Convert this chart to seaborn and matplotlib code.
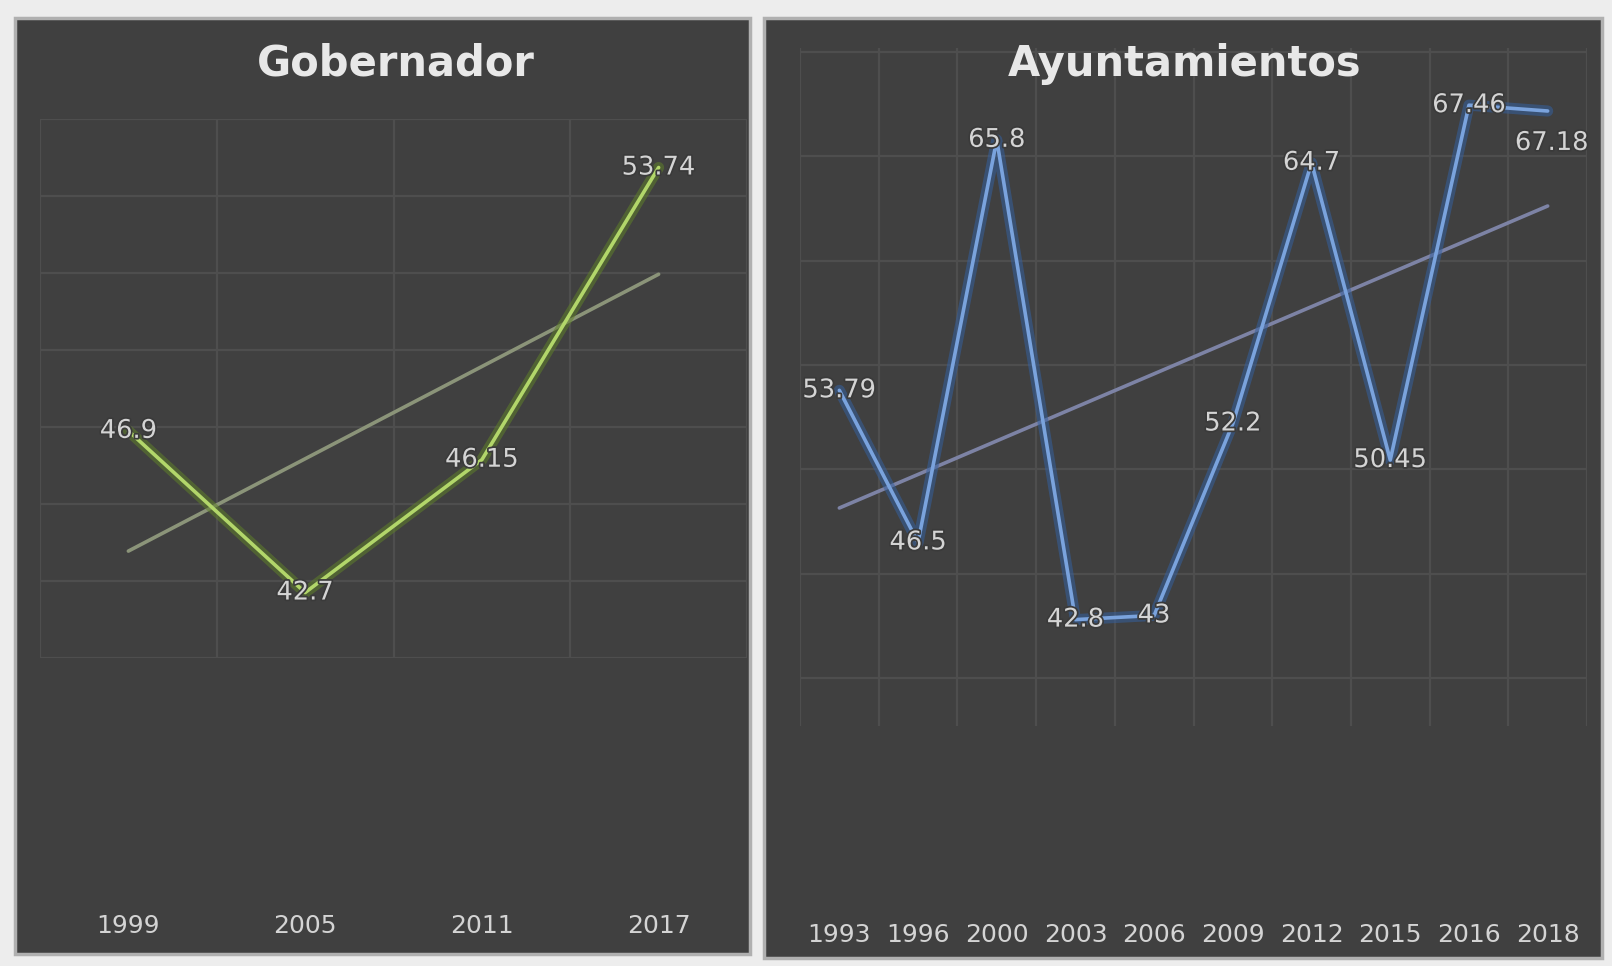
import numpy as np
import pandas as pd
import matplotlib
matplotlib.use("Agg")
import matplotlib.pyplot as plt
import matplotlib.patheffects as pe
from matplotlib.patches import Rectangle
import seaborn as sns

# ---------------- data ----------------
titles = ["Gobernador", "Ayuntamientos"]

gob_years = ["1999", "2005", "2011", "2017"]
gob_values = [46.9, 42.7, 46.15, 53.74]
gob_labels = ["46.9", "42.7", "46.15", "53.74"]

ayu_years = ["1993", "1996", "2000", "2003", "2006",
             "2009", "2012", "2015", "2016", "2018"]
ayu_values = [53.79, 46.5, 65.8, 42.8, 43, 52.2, 64.7, 50.45, 67.46, 67.18]
ayu_labels = ["53.79", "46.5", "65.8", "42.8", "43",
              "52.2", "64.7", "50.45", "67.46", "67.18"]

# ---------------- style ----------------
W, H = 1612, 966
sns.set_theme(style="dark")
plt.rcParams["font.family"] = ["DejaVu Sans"]

BG = "#404040"
GRID = "#4e4e4e"
TXT = "#d4d4d4"

fig = plt.figure(figsize=(W / 100, H / 100), dpi=100, facecolor="#ededed")


def fx(px):
    return px / W


def fy(py):
    return 1 - py / H


# dark chart panels
for (x0, y0, x1, y1) in [(15, 18, 750, 954), (764, 18, 1602, 958)]:
    fig.patches.append(Rectangle((fx(x0), fy(y1)), fx(x1 - x0), (y1 - y0) / H,
                                 transform=fig.transFigure, facecolor=BG,
                                 edgecolor="#b0b0b0", lw=2.5, zorder=-10))

axL = fig.add_axes([fx(40), fy(658), fx(747 - 40), (658 - 119) / H])
axR = fig.add_axes([fx(800), fy(726), fx(1587 - 800), (726 - 48) / H])


def style_axis(ax, years, ylim, yticks, pad):
    n = len(years)
    ax.set_facecolor("none")
    ax.set_xlim(-0.5, n - 0.5)
    ax.set_ylim(*ylim)
    ax.set_xticks(np.arange(n), years)
    ax.set_xticks(np.arange(n + 1) - 0.5, minor=True)
    ax.set_yticks(yticks)
    ax.set_yticklabels([])
    ax.tick_params(axis="x", which="both", length=0, pad=pad,
                   labelsize=18, labelcolor=TXT)
    ax.tick_params(axis="y", length=0)
    ax.grid(False)
    ax.grid(axis="y", which="major", color=GRID, lw=1.6)
    ax.grid(axis="x", which="minor", color=GRID, lw=1.6)
    for s in ax.spines.values():
        s.set_visible(False)
    ax.set_xlabel("")
    ax.set_ylabel("")


def draw(ax, years, values, labels, line_c, glow_c, trend_c, last_offset):
    df = pd.DataFrame({"pos": np.arange(len(years)), "value": values})
    sns.regplot(data=df, x="pos", y="value", ax=ax, scatter=False, ci=None,
                truncate=True, line_kws=dict(color=trend_c, lw=2.6, zorder=2))
    sns.lineplot(data=df, x="pos", y="value", ax=ax, color=line_c, lw=2.6,
                 zorder=3,
                 path_effects=[pe.Stroke(linewidth=8, foreground=glow_c, alpha=0.55),
                               pe.Normal()])
    for i, (v, t) in enumerate(zip(values, labels)):
        off = last_offset if i == len(values) - 1 else (0, 0)
        ax.annotate(t, (i, v), xytext=off, textcoords="offset points",
                    ha="center", va="center", fontsize=18.5, color=TXT, zorder=5,
                    path_effects=[pe.withStroke(linewidth=2.5, foreground="#3a3a3a")])


draw(axL, gob_years, gob_values, gob_labels,
     "#b2d66a", "#5f7f2a", "#8b9479", (0, 0))
draw(axR, ayu_years, ayu_values, ayu_labels,
     "#7aa3dd", "#35609e", "#7d83a5", (3, -23))

style_axis(axL, gob_years, (41, 55), np.arange(41, 56, 2), 184)
style_axis(axR, ayu_years, (37.7, 70.2), np.arange(40, 71, 5), 142)

fig.text(fx(396), fy(64), titles[0], ha="center", va="center",
         fontsize=30, fontweight="bold", color="#e8e8e8")
fig.text(fx(1185), fy(64), titles[1], ha="center", va="center",
         fontsize=30, fontweight="bold", color="#e8e8e8")

fig.savefig("out.png", dpi=100, facecolor=fig.get_facecolor())
